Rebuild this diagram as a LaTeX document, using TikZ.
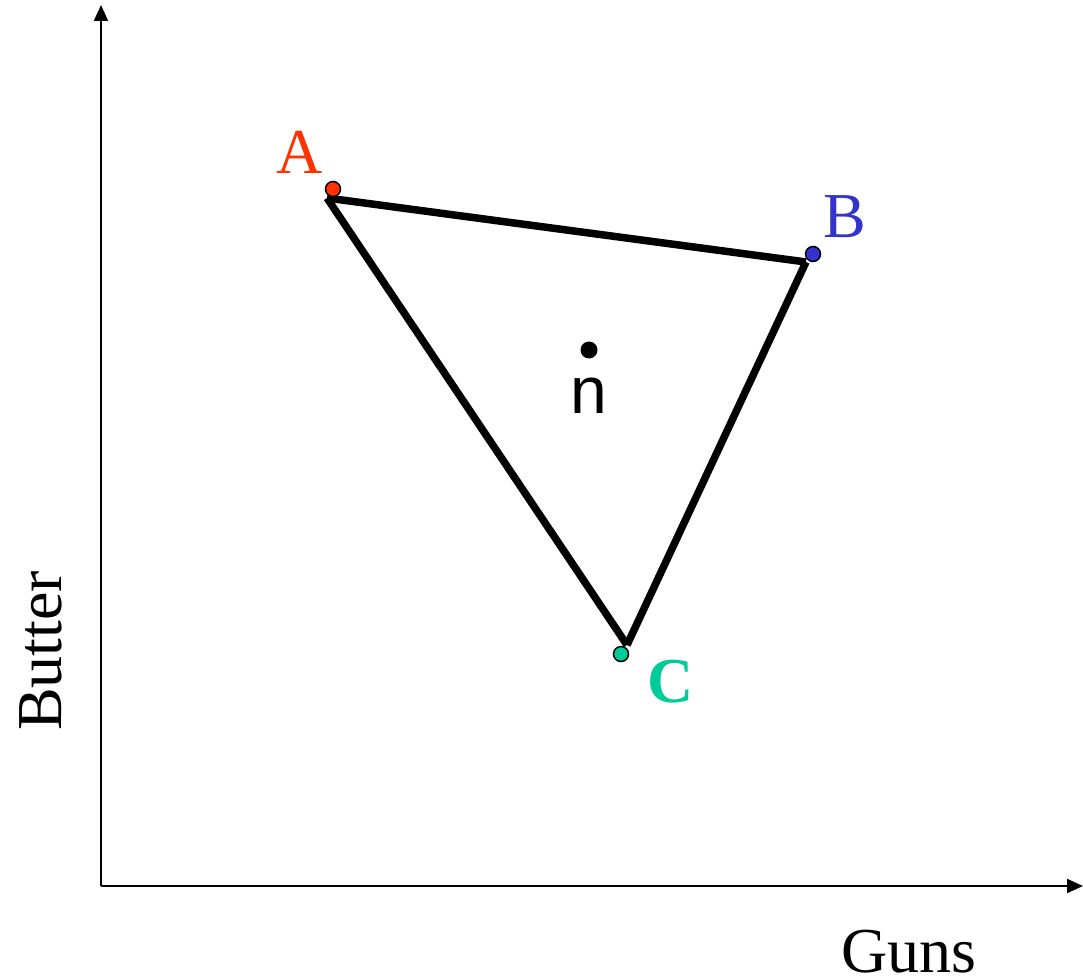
\documentclass[tikz,border=0pt]{standalone}
\usepackage{fontspec}
\setmainfont{Liberation Serif}
\newfontfamily\sansf{Liberation Sans}
\usetikzlibrary{arrows.meta}
\definecolor{colA}{HTML}{FF3300}
\definecolor{colB}{HTML}{3333CC}
\definecolor{colC}{HTML}{00CC99}
\tikzset{
  axis/.style={line width=2pt,-{Triangle[length=16pt,width=14pt]}},
  edge/.style={line width=7.5pt,line cap=butt},
  pt/.style={circle,draw=black,line width=1.5pt,inner sep=0pt,minimum size=15pt},
  lbl/.style={font=\fontsize{64}{76}\selectfont,inner sep=0pt,anchor=base},
}
\begin{document}
\begin{tikzpicture}[x=1pt,y=-1pt]
\useasboundingbox (0,0) rectangle (1083,979);
\fill[white] (0,0) rectangle (1083,979);
% axes
\coordinate (O) at (101,886);
\coordinate (Ytip) at (101,5);
\coordinate (Xtip) at (1083,886);
\draw[axis] (O) -- (Ytip);
\draw[axis] (O) -- (Xtip);
% triangle corners
\coordinate (a) at (327,198);
\coordinate (b) at (806,262);
\coordinate (c) at (627,645);
\draw[edge] (a) -- (b);
\draw[edge] (b) -- (c);
\draw[edge] (c) -- (a);
% points
\node[pt,fill=colA] (pA) at (333,189) {};
\node[pt,fill=colB] (pB) at (813,254) {};
\node[pt,fill=colC] (pC) at (621,654) {};
\node[circle,fill=black,inner sep=0pt,minimum size=17pt] (pn) at (589,350) {};
% labels
\node[lbl,text=colA] (lA) at (300,173) {A};
\node[lbl,text=colB] (lB) at (845,237) {B};
\node[lbl,text=colC,font=\fontsize{64}{76}\selectfont\bfseries] (lC) at (671,702) {C};
\node[lbl,font=\fontsize{66}{78}\sansf] (ln) at (589,413) {n};
\node[lbl,text depth=0pt] (guns) at (909,972) {Guns};
\node[lbl,rotate=90] (butter) at (61,651) {Butter};
\end{tikzpicture}
\end{document}
